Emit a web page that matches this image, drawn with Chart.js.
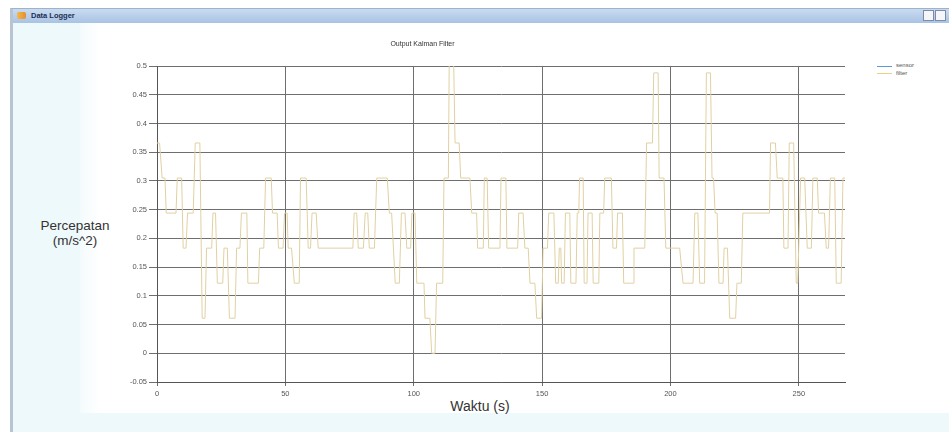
<!DOCTYPE html>
<html>
<head>
<meta charset="utf-8">
<script src="https://cdn.jsdelivr.net/npm/chart.js@4/dist/chart.umd.min.js"></script>
<style>
  html, body { margin:0; padding:0; background:#ffffff; }
  body { width:949px; height:432px; position:relative; overflow:hidden; font-family:"Liberation Sans", Arial, sans-serif; }
  #frame { position:absolute; left:10px; top:8px; width:939px; height:424px; background:#eef9fb; border-left:3px solid #b8c4d2; border-top:1px solid #9fb2c8; box-sizing:border-box; }
  #titlebar { position:absolute; left:13px; top:9px; width:936px; height:14px; background:linear-gradient(#c9dbf0,#a9c3e4); }
  #titletext { position:absolute; left:31px; top:10px; font-size:7.5px; font-weight:bold; color:#1d2f55; line-height:12px; }
  #icon { position:absolute; left:17px; top:12px; width:9px; height:7px; background:linear-gradient(90deg,#f2b84b,#e58f2f); border-radius:2px; }
  .btn { position:absolute; top:10px; width:11px; height:11px; background:#f4f6f9; border:1px solid #7b8da6; box-sizing:border-box; }
  #panel { position:absolute; left:80px; top:23px; width:869px; height:390px; background:linear-gradient(90deg,#f4fbfc 0px,#ffffff 20px); }
  #ytitle { position:absolute; left:25px; top:219px; width:100px; text-align:center; font-size:13.5px; line-height:14.5px; color:#333; }
  #xtitle { position:absolute; left:430px; top:398px; width:100px; text-align:center; font-size:14px; line-height:16px; color:#333; }
  #legend { position:absolute; left:877px; top:62px; font-size:6px; color:#555; line-height:7.5px; }
  #legend .row { position:relative; padding-left:19px; }
  #legend .l { position:absolute; left:0; top:3.5px; width:15px; height:1px; }
  canvas { position:absolute; left:0; top:0; }
</style>
</head>
<body>
<div id="frame"></div>
<div id="titlebar"></div>
<div id="icon"></div>
<div id="titletext">Data Logger</div>
<div class="btn" style="left:923px;"></div>
<div class="btn" style="left:935px;"></div>
<div id="panel"></div>
<div id="ytitle">Percepatan<br>(m/s^2)</div>
<div id="xtitle">Waktu (s)</div>
<div id="legend">
  <div class="row"><span class="l" style="background:#5b9bd5"></span>sensor</div>
  <div class="row"><span class="l" style="background:#ebcf86"></span>filter</div>
</div>
<canvas id="c" width="949" height="432"></canvas>
<script>
// Runs of constant acceleration (time in s)
const runStart = [0,2.0,3.6,7.9,10.2,11.9,14.9,17.6,19.3,21.8,23.5,26.1,28.2,31.0,32.9,35.4,40.0,42.3,45.0,47.3,49.7,51.1,53.5,55.9,58.9,60.4,62.8,76.8,78.4,81.1,82.7,85.6,90.5,92.8,95.2,97.3,99.3,101.2,104.4,107.0,108.9,111.8,113.9,116.1,118.3,122.6,124.9,127.5,129.2,134.0,136.3,140.9,143.3,145.3,147.9,150.4,152.6,155.3,156.7,157.6,159.1,161.2,163.7,164.6,166.4,167.9,169.9,172.5,174.4,177.6,179.4,181.8,185.8,190.7,193.5,195.6,198.2,204.9,209.5,211.4,214.0,216.2,217.4,218.9,220.9,223.1,225.9,228.2,239.0,241.6,244.2,246.3,249.0,250.7,253.3,255.5,257.7,260.7,262.3,264.6,267.2];
const runEnd   = [1.0,3.1,7.4,9.6,11.3,14.1,16.7,18.7,21.3,22.8,25.6,27.4,30.4,32.3,35.0,39.5,41.6,44.5,46.8,49.1,50.7,52.4,55.4,58.1,59.8,62.0,76.3,77.8,80.4,82.1,84.7,89.7,91.4,94.4,96.6,98.8,100.5,104.0,106.3,108.3,111.3,113.5,115.4,117.7,121.9,124.5,127.1,128.6,133.6,135.9,140.5,142.6,144.6,147.2,149.8,152.1,154.6,156.3,157.3,158.6,160.8,163.2,164.3,166.0,167.5,169.5,172.1,174.0,177.0,179.0,181.3,185.5,190.0,193.0,195.2,197.5,203.6,208.8,210.7,213.3,215.6,216.8,218.2,220.5,222.2,225.4,227.6,238.6,240.9,243.8,245.8,248.0,249.6,252.3,254.9,257.2,260.0,261.6,264.0,266.5,268.0];
const runLevel = [0.366,0.305,0.244,0.305,0.183,0.244,0.366,0.061,0.183,0.244,0.122,0.183,0.061,0.183,0.244,0.122,0.183,0.305,0.244,0.183,0.244,0.183,0.122,0.305,0.183,0.244,0.183,0.244,0.183,0.244,0.183,0.305,0.244,0.122,0.244,0.183,0.244,0.122,0.061,0.0,0.122,0.305,0.549,0.366,0.305,0.244,0.183,0.305,0.183,0.305,0.183,0.244,0.183,0.122,0.061,0.183,0.244,0.122,0.183,0.122,0.244,0.122,0.244,0.305,0.122,0.244,0.122,0.244,0.305,0.183,0.244,0.122,0.183,0.366,0.488,0.305,0.183,0.122,0.244,0.122,0.488,0.305,0.244,0.122,0.183,0.061,0.122,0.244,0.366,0.305,0.183,0.366,0.122,0.305,0.183,0.305,0.244,0.183,0.305,0.122,0.305];
const xTicks = [0,50,100,150,200,250];
const seriesNames = ['sensor','filter'];

const pts = [];
for (let i = 0; i < runStart.length; i++) {
  pts.push({x: runStart[i], y: runLevel[i]});
  pts.push({x: runEnd[i], y: runLevel[i]});
}

const fontTick = {family:'"Liberation Sans", Arial, sans-serif', size:7.5};
new Chart(document.getElementById('c'), {
  type: 'line',
  data: {
    datasets: [
      // sensor trace lies fully under the filter trace in the reference
      {label: seriesNames[0], data: pts, borderColor:'#5b9bd5', borderWidth:1, pointRadius:0, showLine:false, order:2},
      {label: seriesNames[1], data: pts, borderColor:'rgb(224,208,162)', borderWidth:1, pointRadius:0, order:1, tension:0}
    ]
  },
  options: {
    responsive:false, animation:false, devicePixelRatio:1,
    layout:{padding:{top:40, left:0, right:104, bottom:0}},
    plugins:{
      legend:{display:false}, tooltip:{enabled:false},
      title:{display:true, text:'Output Kalman Filter', color:'#333', font:{family:'"Liberation Sans", Arial, sans-serif', size:7, weight:'normal'}, padding:{top:0,bottom:17.6}}
    },
    scales:{
      x:{type:'linear', min:0, max:268,
         afterFit:s=>{s.height=50;},
         afterBuildTicks:s=>{s.ticks = xTicks.map(v=>({value:v}));},
         ticks:{color:'#555', font:fontTick, padding:3, maxRotation:0, autoSkip:false},
         grid:{color:'#6e6e6e', lineWidth:1, tickLength:4},
         border:{color:'#555'}
      },
      y:{type:'linear', min:-0.05, max:0.5,
         afterFit:s=>{s.width=157;},
         ticks:{stepSize:0.05, includeBounds:false, color:'#555', font:fontTick, padding:2,
                callback:v=>String(+v.toFixed(2))},
         grid:{color:'#6e6e6e', lineWidth:1, tickLength:8},
         border:{color:'#555'}
      }
    }
  }
});
</script>
</body>
</html>
